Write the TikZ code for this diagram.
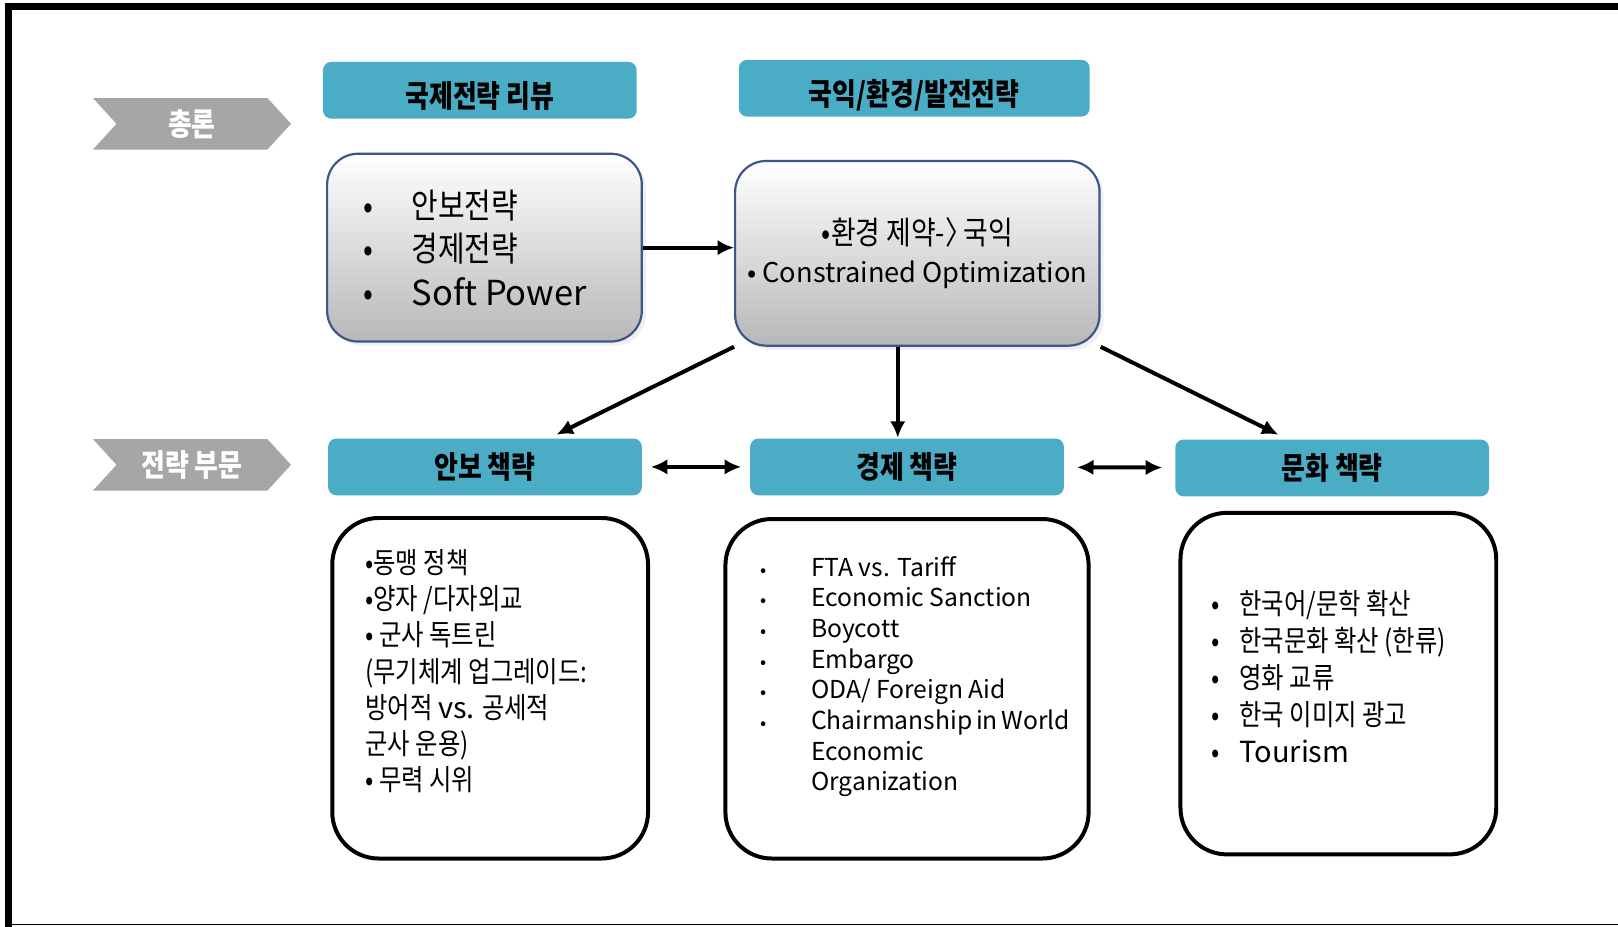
\documentclass[tikz,border=0pt]{standalone}
\usepackage{fontspec}
\setmainfont{Noto Sans CJK KR}[FakeStretch=0.84]
\newfontfamily\latfont{Noto Sans CJK KR}
\usetikzlibrary{shapes.symbols,positioning,arrows.meta,shadows}

\definecolor{hdrblue}{HTML}{4BACC6}
\definecolor{chevgray}{HTML}{A6A6A6}
\definecolor{boxedge}{HTML}{3B5688}

\begin{document}
\begin{tikzpicture}[x=0.1mm,y=-0.1mm]
\tikzset{
	chevron/.style={signal, signal from=west, signal to=east, signal pointer angle=95,
		fill=chevgray, text=white, minimum width=19.2mm, minimum height=5mm,
		inner sep=0pt, font=\fontsize{8.5pt}{10pt}\selectfont\bfseries},
	header/.style={fill=hdrblue, rounded corners=0.8mm, minimum width=30.4mm,
		minimum height=5.5mm, inner sep=0pt, font=\fontsize{8.5pt}{10pt}\selectfont\bfseries},
	lowtext/.style={text height=3.6mm, text depth=0.2mm},
	glassbox/.style={draw=boxedge, line width=0.6pt, rounded corners=3mm,
		top color=white, middle color=black!6, bottom color=black!28,
		drop shadow={shadow xshift=0.4mm, shadow yshift=-0.4mm, opacity=0.12}},
	listbox/.style={draw, line width=1.1pt, rounded corners=4.5mm, align=flush left, inner ysep=0pt},
	flow/.style={line width=1.1pt, -{Latex[length=1.6mm,width=1.5mm]}},
	twoway/.style={line width=1.1pt, {Latex[length=1.6mm,width=1.5mm]}-{Latex[length=1.6mm,width=1.5mm]},
		shorten <=0.8mm, shorten >=0.8mm}
}
\def\blt#1{\makebox[#1][l]{\textbullet}}
\def\sblt#1{\makebox[#1][l]{\fontsize{5pt}{5pt}\selectfont\textbullet}}

\useasboundingbox (0,0) rectangle (1568,898);

% frame
\draw[line width=0.7mm] (8.5,898) -- (8.5,6.5) -- (1568,6.5);
\draw[line width=0.4pt] (8.5,896) -- (1568,896);

% row labels
\node[chevron] (intro) at (186,120) {총론};
\node[chevron] (sectors) at (186,450.5) {전략 부문};

% top headers
\node[header, lowtext] (review) at (465,87.5) {국제전략 리뷰};
\node[header, lowtext, minimum width=34mm] (national) at (886,85.5) {국익/환경/발전전략};

% review box
\node[glassbox, minimum width=30.5mm, minimum height=18.2mm, text width=23.5mm,
	inner xsep=3.5mm, align=flush left, font=\fontsize{9.5pt}{12pt}\selectfont] (rev) at (469.5,240)
	{\blt{4.7mm}안보전략\\ \blt{4.7mm}경제전략\\ \blt{4.7mm}{\latfont Soft Power}};

% national interest box
\node[glassbox, minimum width=34.6mm, minimum height=17.9mm, align=center,
	font=\fontsize{7.5pt}{10.5pt}\selectfont] (nat) at (889,245.5)
	{{\fontsize{8.8pt}{10.5pt}\selectfont •환경 제약-〉\hspace{-0.45em} 국익}\\{\latfont • Constrained Optimization}};

% sector headers
\node[header] (sec) at (470,452.5) {안보 책략};
\node[header] (eco) at (879,452.5) {경제 책략};
\node[header] (cul) at (1291,453.5) {문화 책략};

% sector lists
\node[listbox, minimum width=30.6mm, minimum height=33mm, inner xsep=3.2mm, text width=24.2mm,
	font=\fontsize{8pt}{10pt}\selectfont] (seclist) at (475,667)
	{•동맹 정책\\•양자 /다자외교\\• 군사 독트린\\(무기체계~업그레이드:\\방어적 {\latfont vs.} 공세적\\군사 운용)\\• 무력 시위\\\mbox{}};

\node[listbox, minimum width=35.2mm, minimum height=32.9mm, inner xsep=3.4mm, text width=28.4mm,
	font=\latfont\fontsize{6.8pt}{8.45pt}\selectfont] (ecolist) at (879,667.5)
	{\sblt{4.9mm}FTA vs. Tariff\\ \sblt{4.9mm}Economic Sanction\\ \sblt{4.9mm}Boycott\\
	 \sblt{4.9mm}Embargo\\ \sblt{4.9mm}ODA/ Foreign Aid\\ \sblt{4.9mm}Chairmanship~in~World\\
	 \makebox[4.9mm]{}Economic\\ \makebox[4.9mm]{}Organization\\\mbox{}};

\node[listbox, minimum width=30.6mm, minimum height=33.1mm, inner xsep=3mm, text width=24.6mm,
	font=\fontsize{8pt}{10.2pt}\selectfont] (cullist) at (1297,662.5)
	{\blt{2.7mm}한국어/문학 확산\\ \blt{2.7mm}한국문화~확산~(한류)\\ \blt{2.7mm}영화 교류\\
	 \blt{2.7mm}한국 이미지 광고\\ \blt{2.7mm}{\latfont Tourism}\\[-2.2mm]\mbox{}};

% links
\draw[flow] (rev.east) -- (rev.east -| nat.west);
\coordinate (secend) at ([xshift=6.3mm]sec.north);
\draw[flow, shorten >=0.7mm] (nat.south west) -- (secend);
\coordinate (ecotop) at ([xshift=-0.9mm]eco.north);
\draw[flow] (ecotop |- nat.south) -- (ecotop);
\coordinate (culend) at ([xshift=-4.4mm]cul.north);
\draw[flow, shorten >=0.9mm] (nat.south east) -- (culend);
\draw[twoway] (sec) -- (eco);
\draw[twoway, shorten <=1.2mm, shorten >=1.2mm] (eco) -- (cul);

\end{tikzpicture}
\end{document}
